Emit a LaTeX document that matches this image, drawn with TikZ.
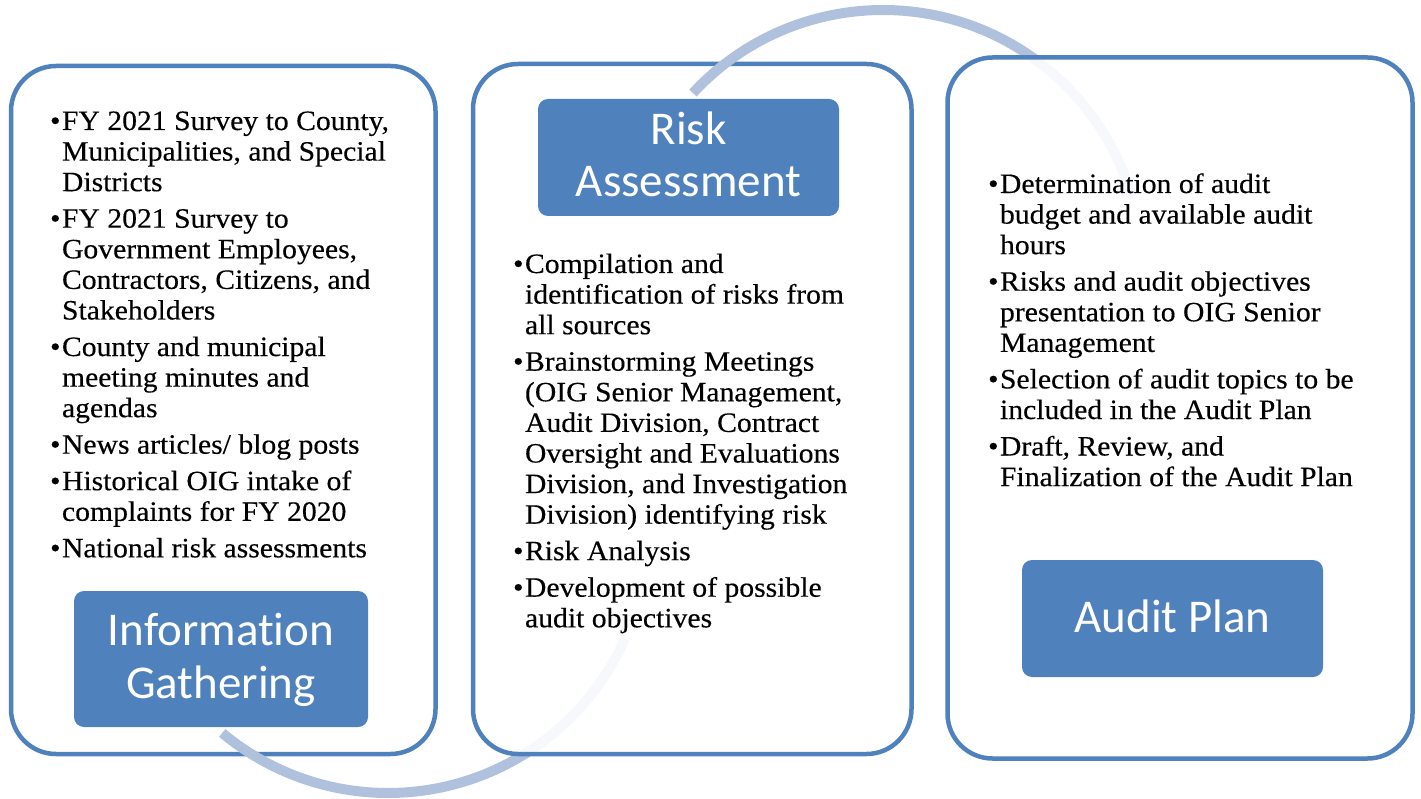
\documentclass[tikz,border=0pt]{standalone}
\usepackage{fontspec}
\setmainfont{Liberation Serif}[FakeStretch=1.06,FakeBold=0.3]
\newfontfamily\titlefont{Carlito}[Ligatures=NoCommon]
\definecolor{boxblue}{HTML}{4F81BD}
\definecolor{arcblue}{HTML}{B0C1DE}
\tikzset{
  bigbox/.style={draw=boxblue, line width=4.5pt, rounded corners=45pt, inner sep=0pt, outer sep=0pt},
  seebox/.style={bigbox, fill=white, fill opacity=0.9},
  titlebox/.style={fill=boxblue, rounded corners=10pt, inner sep=0pt, outer sep=0pt},
  arcline/.style={draw=arcblue, line width=10pt},
  body/.style={anchor=base west, inner sep=0pt, outer sep=0pt, font=\fontsize{28}{30.6}\selectfont},
  ttext/.style={anchor=base, inner sep=0pt, outer sep=0pt, text=white, font=\titlefont\fontsize{47}{52}\selectfont}
}
\newcommand\bul[1]{\llap{\textbullet\hspace{1.5pt}}#1}
\begin{document}
\begin{tikzpicture}[x=1pt,y=-1pt]
\useasboundingbox (0,0) rectangle (1421,799);
% big boxes and arcs
\node[bigbox, fill=white, minimum width=424.5pt, minimum height=688pt] (igbox) at (223.25,410) {};
\coordinate (bc) at (388,534);
\draw[arcline] ([shift={(129.8:259)}]bc) arc[start angle=129.8, end angle=23.8, radius=259];
\node[seebox, minimum width=438.5pt, minimum height=690pt] (rabox) at (692.25,409) {};
\coordinate (tc) at (883,269);
\draw[arcline] ([shift={(222.8:259)}]tc) arc[start angle=222.8, end angle=344.3, radius=259];
\node[seebox, minimum width=465pt, minimum height=701pt] (apbox) at (1180,408) {};
% title boxes
\node[titlebox, minimum width=294pt, minimum height=136pt] (igt) at (221,659) {};
\node[titlebox, minimum width=301pt, minimum height=117pt] (rat) at (688.5,157.5) {};
\node[titlebox, minimum width=301pt, minimum height=117pt] (apt) at (1172.5,618.5) {};
\node[ttext] (igt1) at (221,645) {Information};
\node[ttext] (igt2) at (221,698) {Gathering};
\node[ttext] (rat1) at (688.5,145) {Risk};
\node[ttext] (rat2) at (688.5,197) {Assessment};
\node[ttext] (apt1) at (1172.5,632) {Audit Plan};
% column 1
\node[body] (a1) at (62,130) {\bul{FY 2021 Survey to County,}};
\node[body] (a2) at (62,160.6) {Municipalities, and Special};
\node[body] (a3) at (62,191.2) {Districts};
\node[body] (a4) at (62,227.7) {\bul{FY 2021 Survey to}};
\node[body] (a5) at (62,258.3) {Government Employees,};
\node[body] (a6) at (62,288.9) {Contractors, Citizens, and};
\node[body] (a7) at (62,319.5) {Stakeholders};
\node[body] (a8) at (62,356) {\bul{County and municipal}};
\node[body] (a9) at (62,386.6) {meeting minutes and};
\node[body] (a10) at (62,417.2) {agendas};
\node[body] (a11) at (62,453.7) {\bul{News articles/ blog posts}};
\node[body] (a12) at (62,490.2) {\bul{Historical OIG intake of}};
\node[body] (a13) at (62,520.8) {complaints for FY 2020};
\node[body] (a14) at (62,557.3) {\bul{National risk assessments}};
% column 2
\node[body] (b1) at (525,273) {\bul{Compilation and}};
\node[body] (b2) at (525,303.6) {identification of risks from};
\node[body] (b3) at (525,334.2) {all sources};
\node[body] (b4) at (525,370.7) {\bul{Brainstorming Meetings}};
\node[body] (b5) at (525,401.3) {(OIG Senior Management,};
\node[body] (b6) at (525,431.9) {Audit Division, Contract};
\node[body] (b7) at (525,462.5) {Oversight and Evaluations};
\node[body] (b8) at (525,493.1) {Division, and Investigation};
\node[body] (b9) at (525,523.7) {Division) identifying risk};
\node[body] (b10) at (525,560.2) {\bul{Risk Analysis}};
\node[body] (b11) at (525,596.7) {\bul{Development of possible}};
\node[body] (b12) at (525,627.3) {audit objectives};
% column 3
\node[body] (c1) at (1000,193) {\bul{Determination of audit}};
\node[body] (c2) at (1000,223.6) {budget and available audit};
\node[body] (c3) at (1000,254.2) {hours};
\node[body] (c4) at (1000,290.7) {\bul{Risks and audit objectives}};
\node[body] (c5) at (1000,321.3) {presentation to OIG Senior};
\node[body] (c6) at (1000,351.9) {Management};
\node[body] (c7) at (1000,388.4) {\bul{Selection of audit topics to be}};
\node[body] (c8) at (1000,419) {included in the Audit Plan};
\node[body] (c9) at (1000,455.5) {\bul{Draft, Review, and}};
\node[body] (c10) at (1000,486.1) {Finalization of the Audit Plan};
\end{tikzpicture}
\end{document}
